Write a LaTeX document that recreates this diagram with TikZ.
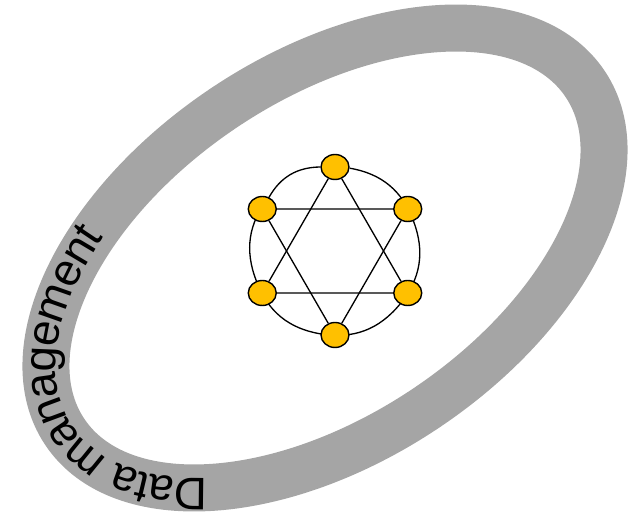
\documentclass[tikz,border=0pt]{standalone}
\usepackage{fontspec}
\setmainfont{Liberation Sans}
\usetikzlibrary{positioning,decorations.text,shapes.geometric,backgrounds}
\definecolor{gris}{HTML}{A5A5A5}
\definecolor{amarillo}{HTML}{FFC000}

\begin{document}
\begin{tikzpicture}[
      nodo/.style={ellipse,draw=black,fill=amarillo,line width=0.8pt,
                   minimum width=0.56cm,minimum height=0.5cm,inner sep=0pt},
      arista/.style={draw=black,line width=0.75pt},
      anillo/.style={draw=gris,line width=0.94cm}]
    \useasboundingbox (0,0) rectangle (12.78,10.3);
    % anillo gris con el texto
    \begin{scope}[shift={(6.5,5.14)},rotate=33.75]
      \draw[anillo] (0,0) ellipse[x radius=6.26,y radius=3.62];
      \path[decorate,decoration={text along path,raise=-0.2cm,
            text={|\fontsize{26}{30}\selectfont|Data management}}]
        (224:6.26 and 3.62) arc[start angle=224,end angle=110,x radius=6.26,y radius=3.62];
    \end{scope}
    % grafo central
    \begin{scope}[shift={(6.7,5.28)}]
      \node[nodo] (arriba) at (90:1.68) {};
      \node[nodo] (arribaizq) at (150:1.68) {};
      \node[nodo] (abajoizq) at (210:1.68) {};
      \node[nodo] (abajo) at (270:1.68) {};
      \node[nodo] (abajoder) at (330:1.68) {};
      \node[nodo] (arribader) at (30:1.68) {};
    \end{scope}
    \begin{scope}[on background layer]
      \draw[arista] (arriba) to[bend right=30] (arribaizq)
                    to[bend right=30] (abajoizq)
                    to[bend right=30] (abajo)
                    to[bend right=30] (abajoder)
                    to[bend right=30] (arribader)
                    to[bend right=30] (arriba);
      \draw[arista] (arriba) -- (abajoizq) -- (abajoder) -- (arriba);
      \draw[arista] (abajo) -- (arribaizq) -- (arribader) -- (abajo);
    \end{scope}
  \end{tikzpicture}
\end{document}
